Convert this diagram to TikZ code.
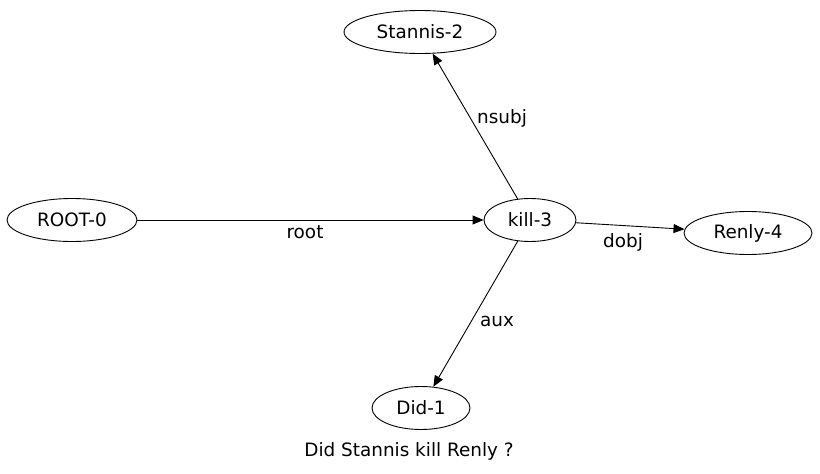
\documentclass[tikz,border=0pt]{standalone}
\usepackage{fontspec}
\setmainfont{DejaVu Sans}
\usetikzlibrary{shapes.geometric,arrows.meta}

\begin{document}
\begin{tikzpicture}[x=1pt,y=-1pt]
      \tikzset{word/.style={draw,
          ellipse,
          line width=0.9pt,
          inner sep=0pt,
          minimum width=#1,
          minimum height=43pt,
          font=\fontsize{18.4}{21}\selectfont},
        dep/.style={line width=0.9pt,-{Triangle[length=11pt,width=9pt]}},
        rel/.style={font=\fontsize{18.4}{21}\selectfont}
      }
      \useasboundingbox (0,0) rectangle (820,474);
      \node [word=130pt] (root0) at (72,220) {ROOT-0};
      \node [word=92pt] (kill3) at (530,220) {kill-3};
      \node [word=152pt] (stannis2) at (420,32) {Stannis-2};
      \node [word=128pt] (renly4) at (748,233) {Renly-4};
      \node [word=98pt] (did1) at (421,408) {Did-1};
      \draw [dep] (root0) -- (kill3);
      \draw [dep] (kill3) -- (stannis2);
      \draw [dep] (kill3) -- (renly4);
      \draw [dep] (kill3) -- (did1);

      \node [rel] (lroot) at (305,232) {root};
      \node [rel] (lnsubj) at (502,118) {nsubj};
      \node [rel] (ldobj) at (623,242) {dobj};
      \node [rel] (laux) at (497,321) {aux};
      \node [rel] (caption) at (409,451) {Did Stannis kill Renly ?};
    \end{tikzpicture}
\end{document}
